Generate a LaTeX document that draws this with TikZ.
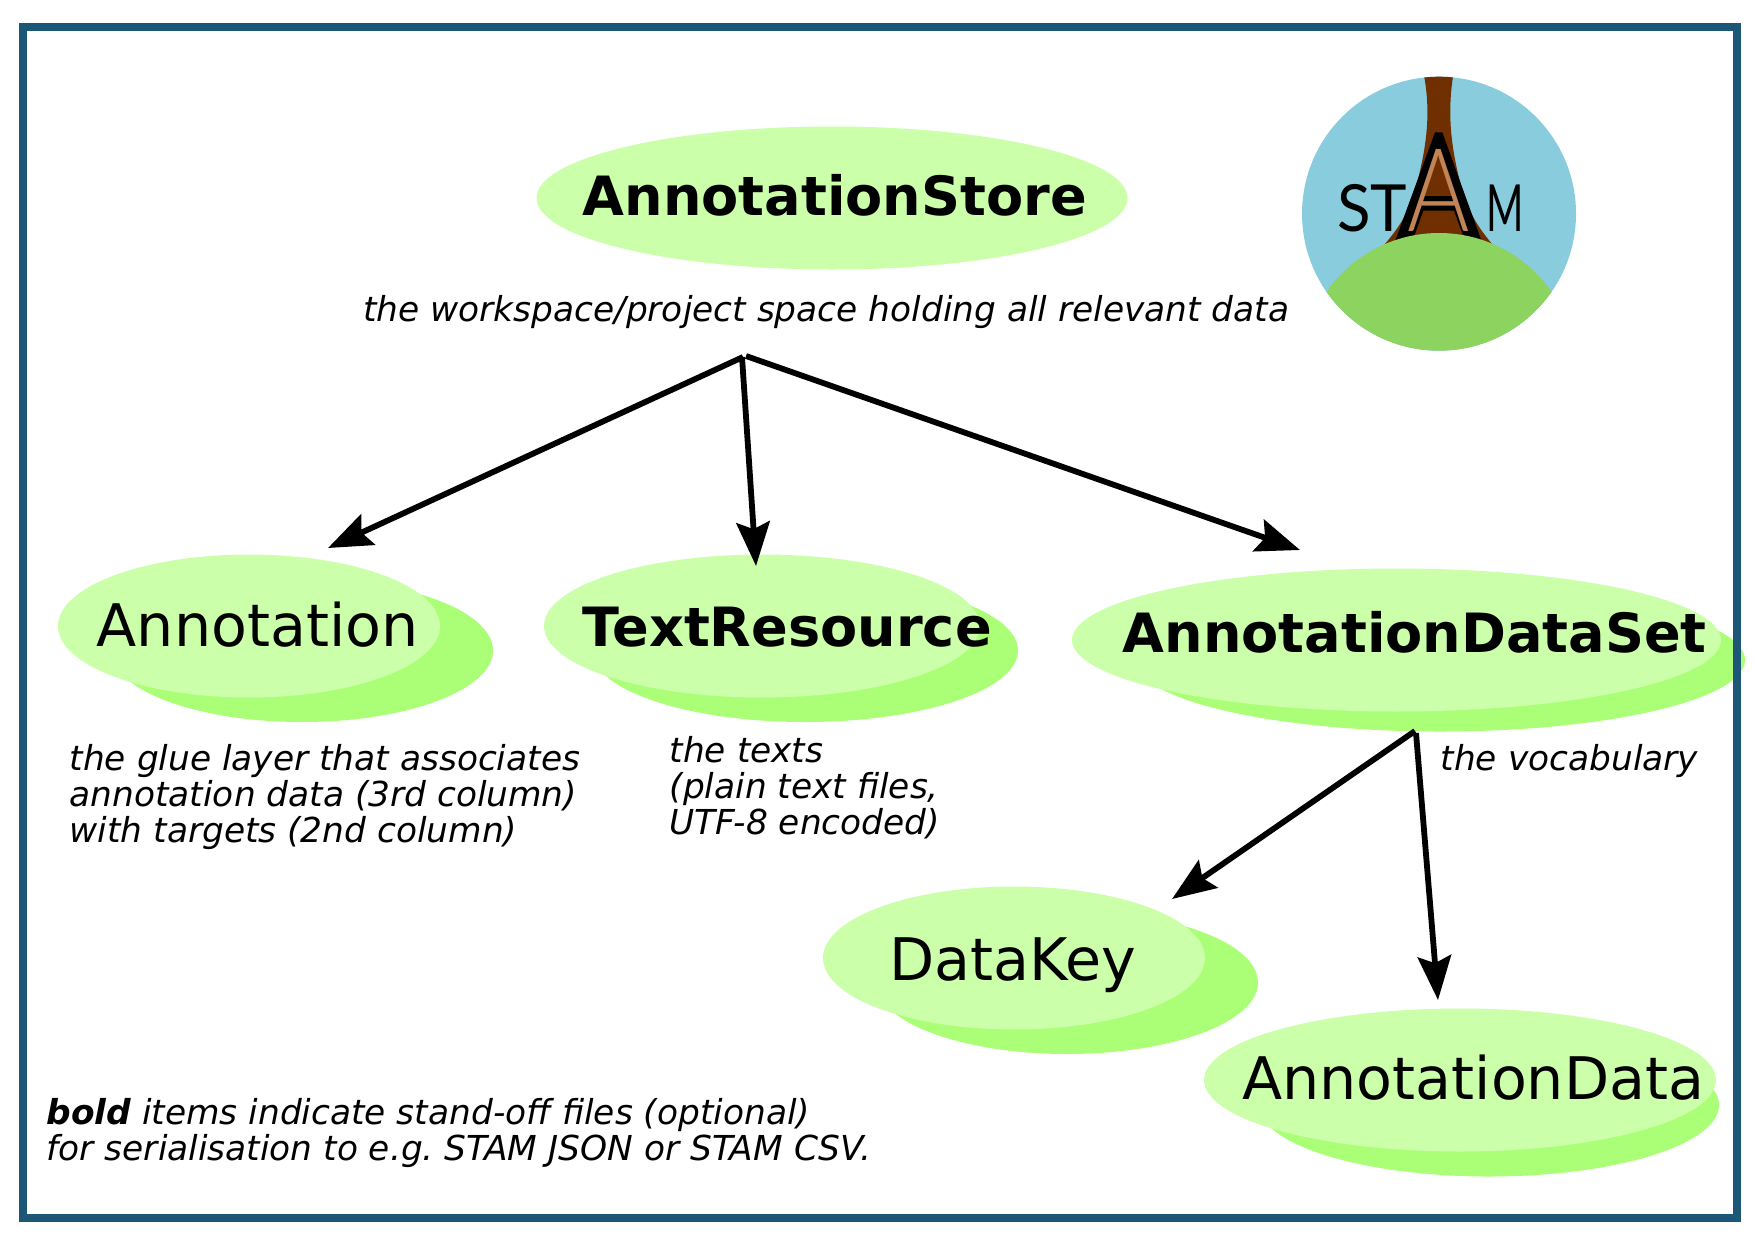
\documentclass[tikz,border=0pt]{standalone}
\usepackage{fontspec}
\setmainfont{DejaVu Sans}
\newfontfamily\logofont{Lato}
\newfontfamily\logolight{Lato Light}
\usetikzlibrary{arrows.meta,shapes.geometric}
\definecolor{framecol}{HTML}{1C5778}
\definecolor{frontcol}{HTML}{CCFFAA}
\definecolor{backcol}{HTML}{AAFF77}
\definecolor{skycol}{HTML}{88CCDD}
\definecolor{hillcol}{HTML}{8DD35F}
\definecolor{trunkcol}{HTML}{702F00}
\definecolor{tancol}{HTML}{C08456}
\tikzset{
  blob/.style={ellipse, inner sep=0pt, minimum height=1.43cm},
  front/.style={blob, fill=frontcol},
  back/.style={blob, fill=backcol},
  boldname/.style={anchor=base west, inner sep=0pt, font=\bfseries\fontsize{15.4}{18}\selectfont},
  plainname/.style={anchor=base west, inner sep=0pt, font=\fontsize{16.7}{20}\selectfont},
  remark/.style={anchor=base west, inner sep=0pt, align=left, font=\itshape\fontsize{9.78}{10.2}\selectfont},
  logoletter/.style={inner sep=0pt, anchor=base, transform shape},
  link/.style={line width=1.65pt, -{Stealth[length=12.5pt, width=9.5pt, inset=2pt]}},
}
\begin{document}
\begin{tikzpicture}[x=0.1mm, y=-0.1mm]
\useasboundingbox (0,0) rectangle (1754,1240);
% logo
\begin{scope}
\clip (1439,213.7) circle[radius=1.37cm];
\fill[skycol] (1300,70) rectangle (1580,355);
\fill[trunkcol] (1423,70) .. controls (1430,105) and (1430,140) .. (1413,197) .. controls (1405,220) and (1395,232) .. (1380,250) -- (1497,250) .. controls (1482,232) and (1472,220) .. (1463,193) .. controls (1448,140) and (1448,105) .. (1454,70) -- cycle;
\node[logoletter, font=\logofont\fontsize{18.5}{20}\selectfont, xscale=0.95] (logoS) at (1372,231) {ST};
\node[logoletter, font=\logofont\fontsize{18.5}{20}\selectfont, xscale=0.62] (logoM) at (1505,231) {M};
\fill[black, even odd rule] (1435,132.3) -- (1442.3,132.3) -- (1483,245) -- (1466.5,245) -- (1454,210.7) -- (1423.3,210.7) -- (1411,245) -- (1393.6,245) -- cycle
  (1438.3,153.3) -- (1452.7,196) -- (1424.3,196) -- cycle;
\node[logoletter, text=tancol, font=\logolight\fontsize{33}{36}\selectfont, xscale=0.82] (logoA) at (1438.5,231) {A};
\fill[hillcol] (1439,370) circle[radius=1.37cm];
\end{scope}
% first level
\node[front, minimum width=5.91cm] (store) at (832,198) {};
\node[boldname] (storename) at (582,215) {AnnotationStore};
\node[remark] (storetext) at (362.4,321) {the workspace/project space holding all relevant data};
% second level
\node[back, minimum width=3.82cm] (annotationback) at (302,650.5) {};
\node[front, minimum width=3.82cm] (annotation) at (249,626) {};
\node[plainname] (annotationname) at (96,646) {Annotation};
\node[remark] (annotationtext) at (69,842) {the glue layer that associates\\annotation data (3rd column)\\with targets (2nd column)};
\node[back, minimum width=4.26cm] (resourceback) at (805,650.5) {};
\node[front, minimum width=4.36cm] (resource) at (762,626) {};
\node[boldname] (resourcename) at (582,646) {TextResource};
\node[remark] (resourcetext) at (669,834.5) {the texts\\(plain text files,\\UTF-8 encoded)};
\node[back, minimum width=6.10cm] (datasetback) at (1440,660) {};
\node[front, minimum width=6.49cm] (dataset) at (1396.5,640) {};
\node[boldname] (datasetname) at (1122,652) {AnnotationDataSet};
\node[remark] (datasettext) at (1440,770.5) {the vocabulary};
% third level
\node[back, minimum width=3.82cm] (datakeyback) at (1067,982.5) {};
\node[front, minimum width=3.82cm] (datakey) at (1014,958) {};
\node[plainname] (datakeyname) at (889,980) {DataKey};
\node[back, minimum width=4.60cm] (databack) at (1489,1105) {};
\node[front, minimum width=5.12cm] (data) at (1460,1080) {};
\node[plainname] (dataname) at (1241.5,1099) {AnnotationData};
% note
\node[remark] (note) at (46,1160.5) {\textbf{bold} items indicate stand-off files (optional)\\for serialisation to e.g.\ STAM JSON or STAM CSV.};
% frame
\node[draw=framecol, line width=2.28pt, inner sep=0pt, minimum width=17.145cm, minimum height=11.91cm] (frame) at (879.75,622.5) {};
% connectors
\coordinate (storeleft) at (743,357);
\coordinate (storemid) at (742,357);
\coordinate (storeright) at (746,356);
\coordinate (annotationin) at (328,548);
\coordinate (resourcein) at (756,566);
\coordinate (datasetin) at (1300,550);
\coordinate (datasetleft) at (1415,731);
\coordinate (datasetright) at (1416,733);
\coordinate (datakeyin) at (1172,899);
\coordinate (datain) at (1438,1000);
\draw[link] (storeleft) -- (annotationin);
\draw[link] (storemid) -- (resourcein);
\draw[link] (storeright) -- (datasetin);
\draw[link] (datasetleft) -- (datakeyin);
\draw[link] (datasetright) -- (datain);
\end{tikzpicture}
\end{document}
